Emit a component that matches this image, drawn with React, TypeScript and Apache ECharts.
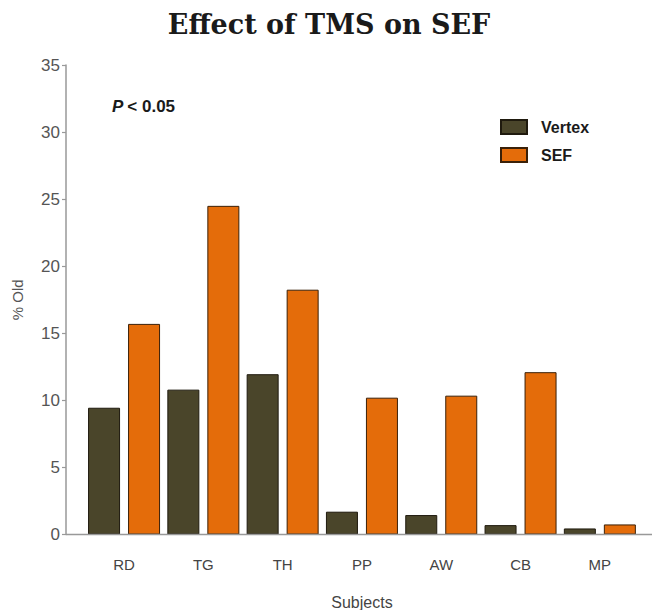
import React, { useEffect, useRef } from "react";
import * as echarts from "echarts";

const subjects = ["RD", "TG", "TH", "PP", "AW", "CB", "MP"];
const vertexValues = [9.45, 10.8, 11.95, 1.7, 1.45, 0.7, 0.45];
const sefValues = [15.7, 24.5, 18.25, 10.2, 10.35, 12.1, 0.75];
const yTicks = { min: 0, max: 35, interval: 5 };

export default function App() {
  const ref = useRef<HTMLDivElement>(null);
  useEffect(() => {
    const chart = echarts.init(ref.current!, null, { renderer: "svg" });
    const gridLeft = 84.4;
    const option: any = {
      animation: false,
      backgroundColor: "#ffffff",
      title: {
        text: "Effect of TMS on SEF",
        left: 329,
        textAlign: "center",
        top: 11,
        padding: 0,
        textStyle: {
          fontFamily: "DejaVu Serif",
          fontWeight: "bold",
          fontSize: 27,
          color: "#1a1a1a",
        },
      },
      legend: {
        orient: "vertical",
        left: 500,
        top: 119,
        padding: 0,
        itemWidth: 26,
        itemHeight: 14,
        itemGap: 12,
        icon: "rect",
        textStyle: {
          fontFamily: "Liberation Sans",
          fontWeight: "bold",
          fontSize: 16,
          color: "#1a1a1a",
          padding: [0, 0, 0, 9],
        },
        data: ["Vertex", "SEF"],
      },
      grid: { left: gridLeft, right: 12.5, top: 65, bottom: 75.5, outerBoundsMode: "none" },
      xAxis: {
        type: "category",
        data: subjects,
        axisLine: { show: false },
        axisTick: { show: false },
        axisLabel: {
          margin: 22,
          fontFamily: "Liberation Sans",
          fontSize: 15,
          color: "#444",
        },
        name: "Subjects",
        nameLocation: "middle",
        nameGap: 60,
        nameTextStyle: { fontFamily: "Liberation Sans", fontSize: 16, color: "#444" },
      },
      yAxis: {
        type: "value",
        min: yTicks.min,
        max: yTicks.max,
        interval: yTicks.interval,
        offset: gridLeft - 66,
        splitLine: { show: false },
        axisLine: { show: true, lineStyle: { color: "#999", width: 1.5 } },
        axisTick: { show: true, length: 4, lineStyle: { color: "#999", width: 1.2 } },
        axisLabel: {
          margin: 6,
          fontFamily: "Liberation Sans",
          fontSize: 17,
          color: "#555",
        },
        name: "% Old",
        nameLocation: "middle",
        nameGap: 41,
        nameRotate: 90,
        nameTextStyle: { fontFamily: "Liberation Sans", fontSize: 15, color: "#555" },
      },
      series: [
        {
          name: "Vertex",
          type: "bar",
          data: vertexValues,
          barWidth: 32,
          barGap: "25%",
          itemStyle: { color: "#4A452A", borderColor: "#1f1a0e", borderWidth: 1 },
        },
        {
          name: "SEF",
          type: "bar",
          data: sefValues,
          barWidth: 32,
          barGap: "25%",
          itemStyle: { color: "#E46C0A", borderColor: "#3a2008", borderWidth: 1 },
        },
      ],
    };
    chart.setOption(option);
    const y0 = chart.convertToPixel({ yAxisIndex: 0 }, 0) as number;
    chart.setOption({
      graphic: [
        {
          type: "line",
          shape: { x1: 66, y1: y0, x2: 652, y2: y0 },
          style: { stroke: "#999", lineWidth: 1.5 },
          z: 10,
        },
        {
          type: "text",
          left: 112,
          top: 98,
          style: {
            text: "{i|P}{b|< 0.05}",
            rich: {
              i: { fontFamily: "Liberation Sans", fontStyle: "italic", fontWeight: "bold", fontSize: 17, fill: "#1a1a1a", padding: [0, 4, 0, 0] },
              b: { fontFamily: "Liberation Sans", fontWeight: "bold", fontSize: 17, fill: "#1a1a1a" },
            },
          },
        },
      ],
    });
    return () => chart.dispose();
  }, []);
  return (
    <div
      ref={ref}
      style={{ position: "fixed", left: 0, top: 0, width: 652, height: 610 }}
    />
  );
}
